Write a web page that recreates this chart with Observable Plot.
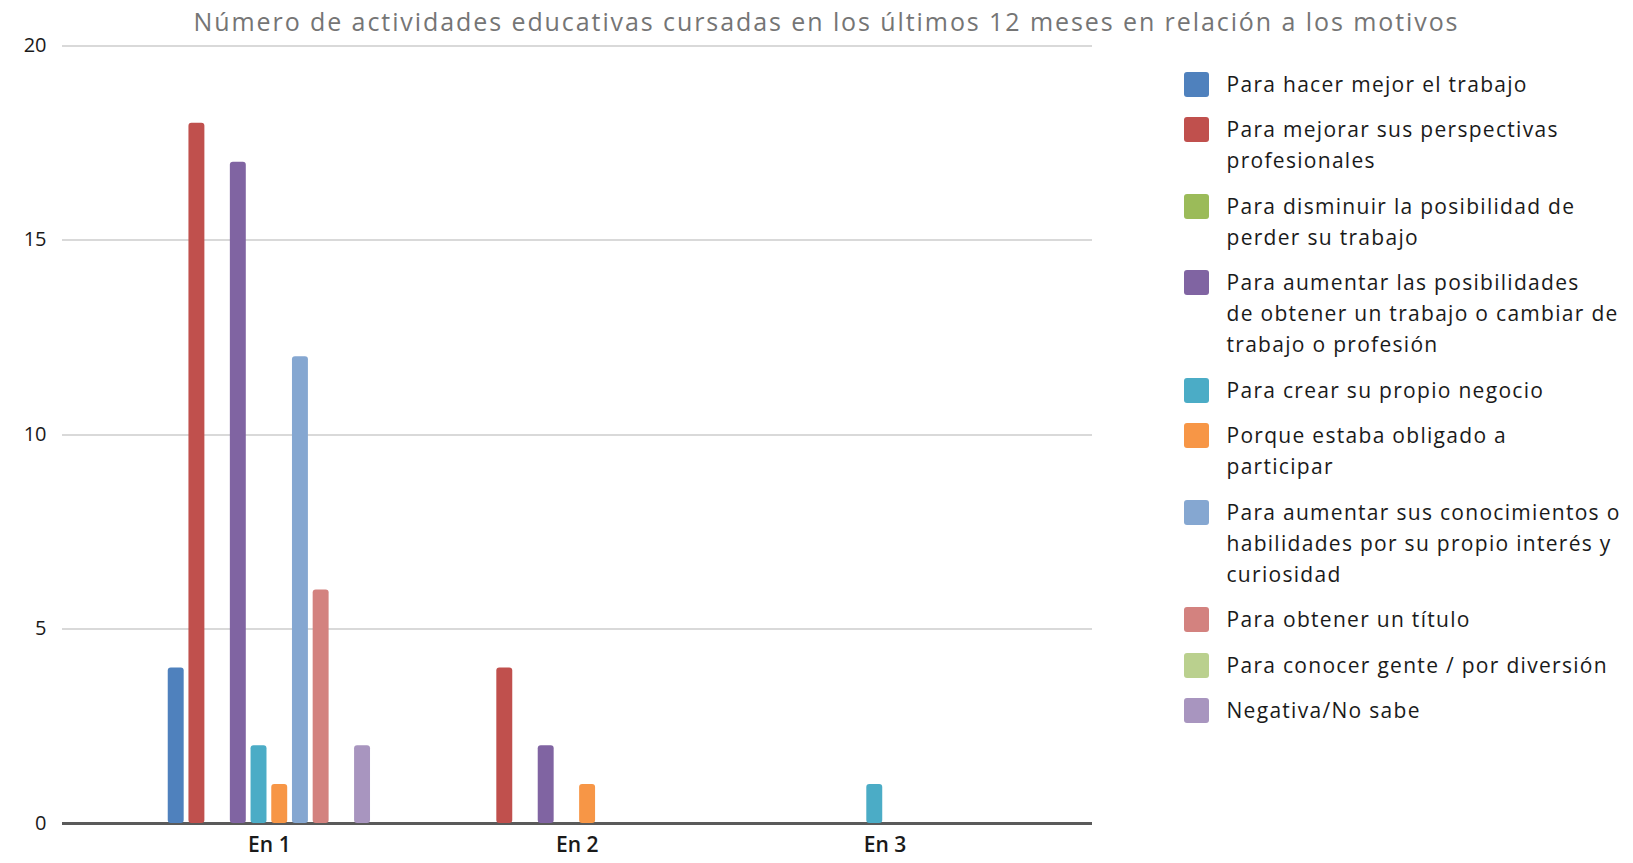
<!DOCTYPE html>
<html>
<head>
<meta charset="utf-8">
<script src="https://cdn.jsdelivr.net/npm/d3@7"></script>
<script src="https://cdn.jsdelivr.net/npm/@observablehq/plot@0.6"></script>
<style>
  body { margin: 0; background: #fff; font-family: "Open Sans", sans-serif; }
  #wrap { position: relative; width: 1633px; height: 863px; overflow: hidden; }
  #title { position: absolute; left: 193.5px; top: 0; line-height: 42.6px; font-size: 25px; color: #757575; white-space: nowrap; }
  #chart { position: absolute; left: 0; top: 30px; }
  #legend { position: absolute; left: 1184px; top: 68.5px; color: #1a1a1a; font-size: 21px; font-weight: 500; }
  .item { display: flex; align-items: flex-start; margin-bottom: 14.5px; }
  .sw { width: 25px; height: 25px; border-radius: 3px; margin-top: 3px; flex: none; }
  .lab { margin-left: 17.5px; line-height: 31px; white-space: pre-line; }
</style>
</head>
<body>
<div id="wrap">
  <div id="title"></div>
  <div id="chart"></div>
  <div id="legend"></div>
</div>
<script>
const title = "Número de actividades educativas cursadas en los últimos 12 meses en relación a los motivos";
const categories = ["En 1", "En 2", "En 3"];
const motivos = [
  "Para hacer mejor el trabajo",
  "Para mejorar sus perspectivas\nprofesionales",
  "Para disminuir la posibilidad de\nperder su trabajo",
  "Para aumentar las posibilidades\nde obtener un trabajo o cambiar de\ntrabajo o profesión",
  "Para crear su propio negocio",
  "Porque estaba obligado a\nparticipar",
  "Para aumentar sus conocimientos o\nhabilidades por su propio interés y\ncuriosidad",
  "Para obtener un título",
  "Para conocer gente / por diversión",
  "Negativa/No sabe"
];
const colores = ["#4F81BD", "#C0504D", "#9BBB59", "#8064A2", "#4BACC6", "#F79646", "#85A7D1", "#D3827F", "#BAD08E", "#A895BF"];
const valoresEn1 = [4, 18, 0, 17, 2, 1, 12, 6, 0, 2];
const valoresEn2 = [0, 4, 0, 2, 0, 1, 0, 0, 0, 0];
const valoresEn3 = [0, 0, 0, 0, 1, 0, 0, 0, 0, 0];
const yTicks = [0, 5, 10, 15, 20];

const keys = motivos.map(m => m.replace(/\n/g, " "));
const series = [valoresEn1, valoresEn2, valoresEn3];
const data = [];
categories.forEach((c, i) => keys.forEach((k, j) => data.push({cat: c, motivo: k, valor: series[i][j]})));

// fit letter-spacing of text to reference widths
function fitSpacing(text, font, target) {
  const ctx = document.createElement("canvas").getContext("2d");
  ctx.font = font;
  const w = ctx.measureText(text).width;
  return (target - w) / (text.length - 1);
}

const tEl = document.getElementById("title");
tEl.textContent = title;
tEl.style.letterSpacing = fitSpacing(title, "25px 'Open Sans'", 1264) + "px";

// layout of the facet band
const W = 1633, mL = 61.5, mR = 541;
const fxPadOuter = 0.1736;
const fxStep = (W - mL - mR) / (categories.length + 2 * fxPadOuter);
const ext = -fxPadOuter * fxStep; // grid extends across the outer padding

const chart = Plot.plot({
  width: W,
  height: 833,
  marginTop: 15,
  marginBottom: 40,
  marginLeft: mL,
  marginRight: mR,
  style: {fontFamily: "'Open Sans', sans-serif", fontSize: "20px", color: "#222", background: "transparent", overflow: "visible"},
  fx: {domain: categories, paddingInner: 0, paddingOuter: fxPadOuter, round: false, label: null, axis: null},
  x: {domain: keys, paddingInner: 0.23, paddingOuter: 2.55, round: false, axis: null},
  y: {domain: [0, 20]},
  color: {domain: keys, range: colores},
  marks: [
    Plot.ruleY(yTicks.filter(d => d > 0), {stroke: "#d9d9d9", strokeWidth: 2, shapeRendering: "crispEdges", insetLeft: ext, insetRight: ext}),
    Plot.axisY(yTicks, {tickSize: 0, tickPadding: 15.5 - ext, label: null, fill: "#1a1a1a"}),
    Plot.ruleY([0], {stroke: "#5a5a5a", strokeWidth: 3, shapeRendering: "crispEdges", insetLeft: ext, insetRight: ext}),
    Plot.barY(data, {fx: "cat", x: "motivo", y: "valor", fill: "motivo", rx: 3}),
    Plot.axisFx({anchor: "bottom", tickSize: 0, tickPadding: 14, label: null, fontWeight: 600, fontSize: 21, fill: "#1a1a1a"})
  ]
});
document.getElementById("chart").appendChild(chart);

const lg = document.getElementById("legend");
const ls = fitSpacing("Para hacer mejor el trabajo", "500 21px 'Open Sans'", 300);
motivos.forEach((m, i) => {
  const it = document.createElement("div");
  it.className = "item";
  const sw = document.createElement("div");
  sw.className = "sw";
  sw.style.background = colores[i];
  const lb = document.createElement("div");
  lb.className = "lab";
  lb.style.letterSpacing = ls + "px";
  lb.textContent = m;
  it.appendChild(sw);
  it.appendChild(lb);
  lg.appendChild(it);
});
</script>
</body>
</html>
